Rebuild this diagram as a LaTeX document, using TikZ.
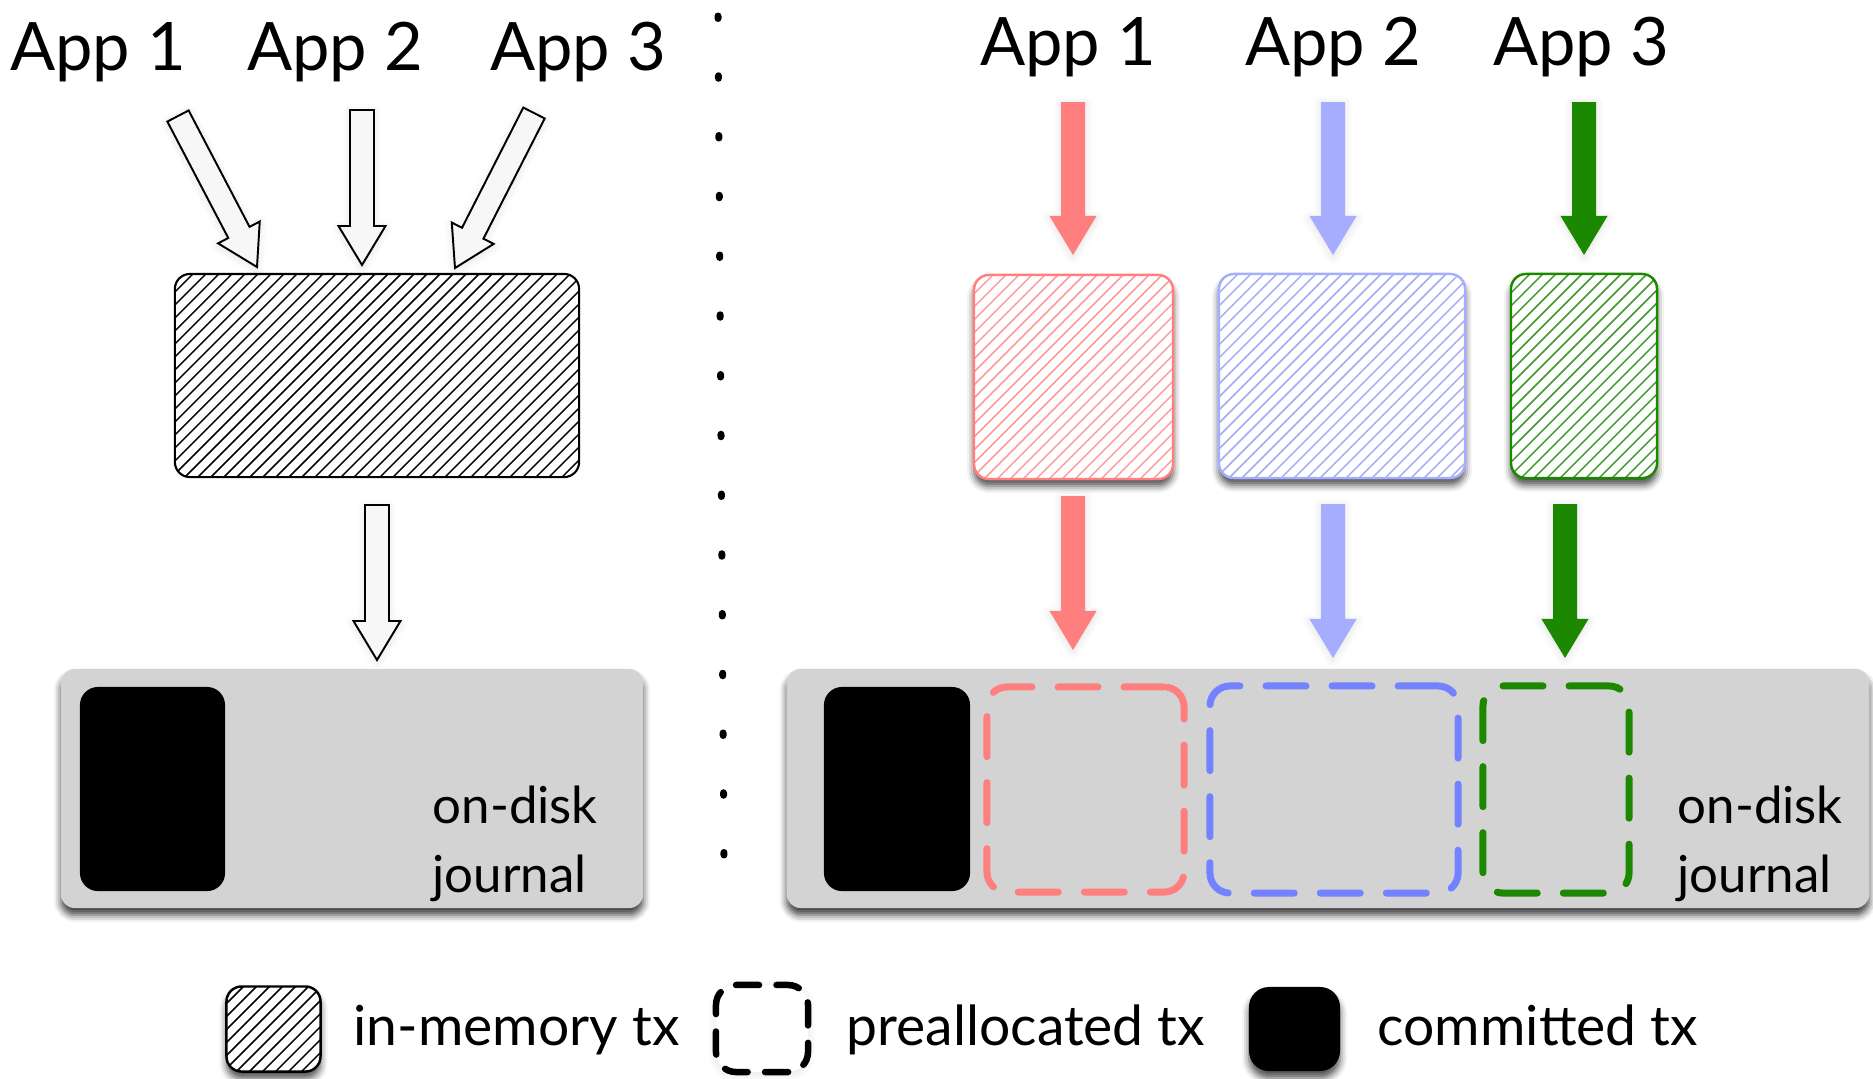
\documentclass[tikz,border=0pt]{standalone}
\usepackage{fontspec}
\setmainfont{Lato}
\usetikzlibrary{calc,shadows.blur}

\definecolor{appred}{HTML}{FF7F7F}
\definecolor{appblue}{HTML}{A6ADFF}
\definecolor{appgreen}{HTML}{1C8800}
\definecolor{dashblue}{HTML}{7383FF}
\definecolor{hatchred}{HTML}{FF9A9A}
\definecolor{hatchblue}{HTML}{A3AAF8}
\definecolor{hatchgreen}{HTML}{3C9A2C}
\definecolor{journalgray}{HTML}{D3D3D3}
\definecolor{hollowfill}{HTML}{F7F7F7}

% block arrow: shaft from #2 to the tip #3, drawn with style #1
\newcommand\blockarrow[3]{%
  \coordinate (ba-b) at ($(#3)!0.39cm!(#2)$);
  \path[#1] ($(#2)!0.12cm!90:(#3)$) -- ($(ba-b)!0.12cm!90:(#3)$)
    -- ($(ba-b)!0.235cm!90:(#3)$) -- (#3)
    -- ($(ba-b)!0.235cm!-90:(#3)$) -- ($(ba-b)!0.12cm!-90:(#3)$)
    -- ($(#2)!0.12cm!-90:(#3)$) -- cycle;
}

\tikzset{
  apptitle/.style={anchor=base, inner sep=0, font=\fontsize{19pt}{23pt}\selectfont},
  jtext/.style={anchor=base west, inner sep=0, font=\fontsize{14.5pt}{18pt}\selectfont},
  legtext/.style={anchor=base west, inner sep=0, font=\fontsize{15.7pt}{19pt}\selectfont},
  hatched/.style={path picture={
      \foreach \k in {-24,...,40}{
        \draw[#1, line width=0.42pt]
          ($(path picture bounding box.south west)+(\k*0.13cm,-0.1cm)$) -- ++(3.2cm,3.2cm);
      }}},
  txbox/.style={inner sep=0, rounded corners=0.15cm},
  boxshadow/.style={blur shadow={shadow xshift=0cm, shadow yshift=-0.07cm,
      shadow blur radius=0.07cm, shadow opacity=70}},
  journalshadow/.style={blur shadow={shadow xshift=0cm, shadow yshift=-0.07cm,
      shadow blur radius=0.07cm, shadow opacity=75}},
  glow/.style={blur shadow={shadow xshift=0cm, shadow yshift=-0.02cm,
      shadow blur radius=0.08cm, shadow opacity=12}},
  hollowarrow/.style={fill=hollowfill, draw=black, line width=0.55pt, line join=miter, glow},
  solidarrow/.style={fill=#1, glow},
  prealloc/.style={draw=#1, line width=0.07cm, line cap=round,
      dash pattern=on 0.40cm off 0.26cm, rounded corners=0.2cm, inner sep=0},
  journal/.style={fill=journalgray, rounded corners=0.14cm, inner sep=0, journalshadow},
  committed/.style={fill=black, rounded corners=0.18cm, inner sep=0},
}

\begin{document}
\begin{tikzpicture}[x=0.01cm, y=-0.01cm]
\useasboundingbox (0,0) rectangle (1873,1078);

% ---------- shared transaction (left) ----------
\node[apptitle] (lapp1) at (98,70)  {App 1};
\node[apptitle] (lapp2) at (335,70) {App 2};
\node[apptitle] (lapp3) at (578,70) {App 3};

\node[txbox, draw=black, line width=0.6pt, hatched=black,
      minimum width=4.04cm, minimum height=2.03cm] (mem) at (377,375.5) {};

\coordinate (la1s) at (178,116); \coordinate (la1t) at (257,267);
\coordinate (la2s) at (362,110); \coordinate (la2t) at (362,265);
\coordinate (la3s) at (534,113); \coordinate (la3t) at (455,268);
\coordinate (lds)  at (377,505); \coordinate (ldt)  at (377,660);
\blockarrow{hollowarrow}{la1s}{la1t}
\blockarrow{hollowarrow}{la2s}{la2t}
\blockarrow{hollowarrow}{la3s}{la3t}
\blockarrow{hollowarrow}{lds}{ldt}

\node[journal, minimum width=5.82cm, minimum height=2.39cm] (ljour) at (352,788.5) {};
\node[committed, minimum width=1.45cm, minimum height=2.04cm] (lcom) at (152.5,789) {};
\node[jtext] (lon)  at (432,823) {on-disk};
\node[jtext] (ljn)  at (432,892) {journal};

% ---------- divider ----------
\draw[line width=0.07cm, line cap=round, dash pattern=on 0.025cm off 0.57216cm]
  (718,16) -- (724,858);

% ---------- per-application transactions (right) ----------
\node[apptitle] (rapp1) at (1068,65) {App 1};
\node[apptitle] (rapp2) at (1333,65) {App 2};
\node[apptitle] (rapp3) at (1581,65) {App 3};

\node[txbox, draw=appred, line width=0.7pt, fill=white, hatched=hatchred, boxshadow,
      minimum width=1.99cm, minimum height=2.04cm] (rtx) at (1073.5,377) {};
\node[txbox, draw=appblue, line width=0.7pt, fill=white, hatched=hatchblue, boxshadow,
      minimum width=2.46cm, minimum height=2.04cm] (btx) at (1342,376) {};
\node[txbox, draw=appgreen, line width=0.7pt, fill=white, hatched=hatchgreen, boxshadow,
      minimum width=1.46cm, minimum height=2.04cm] (gtx) at (1584,376) {};

\coordinate (r1s) at (1073,102); \coordinate (r1t) at (1073,255);
\coordinate (b1s) at (1333,102); \coordinate (b1t) at (1333,255);
\coordinate (g1s) at (1584,102); \coordinate (g1t) at (1584,255);
\coordinate (r2s) at (1073,496); \coordinate (r2t) at (1073,650);
\coordinate (b2s) at (1333,504); \coordinate (b2t) at (1333,658);
\coordinate (g2s) at (1565,504); \coordinate (g2t) at (1565,658);
\blockarrow{solidarrow=appred}{r1s}{r1t}
\blockarrow{solidarrow=appblue}{b1s}{b1t}
\blockarrow{solidarrow=appgreen}{g1s}{g1t}
\blockarrow{solidarrow=appred}{r2s}{r2t}
\blockarrow{solidarrow=appblue}{b2s}{b2t}
\blockarrow{solidarrow=appgreen}{g2s}{g2t}

\node[journal, minimum width=10.82cm, minimum height=2.39cm] (rjour) at (1328,788.5) {};
\node[committed, minimum width=1.46cm, minimum height=2.04cm] (rcom) at (897,789) {};
\node[prealloc=appred,   minimum width=1.97cm, minimum height=2.05cm] (rpre) at (1085.5,789.5) {};
\node[prealloc=dashblue, minimum width=2.48cm, minimum height=2.07cm] (bpre) at (1334,789.5) {};
\node[prealloc=appgreen, minimum width=1.46cm, minimum height=2.07cm] (gpre) at (1556,789.5) {};
\node[jtext] (ron) at (1677,823) {on-disk};
\node[jtext] (rjn) at (1677,892) {journal};

% ---------- legend ----------
\node[txbox, draw=black, line width=0.7pt, fill=white, hatched=black, boxshadow,
      minimum width=0.94cm, minimum height=0.85cm] (legmem) at (273.5,1029) {};
\node[legtext] (legmemt) at (353,1045) {in-memory tx};
\node[draw=black, fill=white, line width=0.065cm, line cap=round, rounded corners=0.2cm,
      inner sep=0, dash pattern=on 0.23cm off 0.1746cm, dash phase=0.115cm, glow,
      minimum width=0.92cm, minimum height=0.87cm] (legpre) at (762,1028.5) {};
\node[legtext] (legpret) at (846,1045) {preallocated tx};
\node[committed, rounded corners=0.2cm, boxshadow,
      minimum width=0.91cm, minimum height=0.84cm] (legcom) at (1294.5,1029) {};
\node[legtext] (legcomt) at (1377,1045) {committed tx};
\end{tikzpicture}
\end{document}
